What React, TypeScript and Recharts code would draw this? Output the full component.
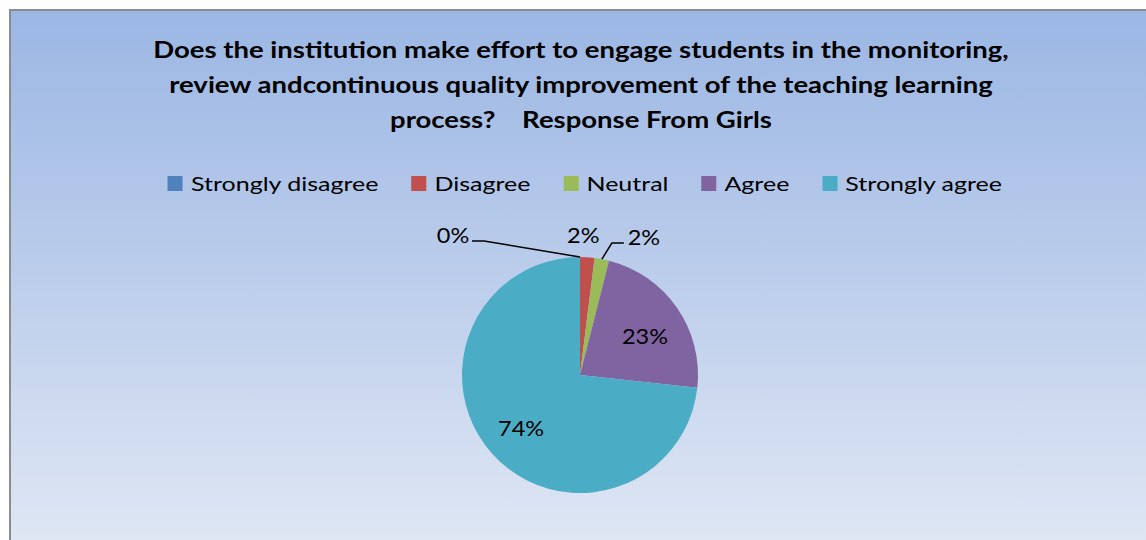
import React from "react";
import { PieChart, Pie, Cell } from "recharts";

const categories = ["Strongly disagree", "Disagree", "Neutral", "Agree", "Strongly agree"];
const values = [0, 2, 2, 23, 74];
const colors = ["#4f81bd", "#c0504d", "#9bbb59", "#8064a2", "#4bacc6"];
const titleLines = [
  "Does the institution make effort to engage students in the monitoring,",
  "review andcontinuous quality improvement of the teaching learning",
  "process?    Response From Girls",
];

const data = categories.map((name, i) => ({ name, value: values[i] }));
const RADIAN = Math.PI / 180;
const FONT = "Lato, 'Open Sans', sans-serif";
const SX = 1.25;

const LabelText = ({ x, y, text }: { x: number; y: number; text: string }) => (
  <text
    transform={`translate(${x},${y}) scale(1.12,1)`}
    fill="#000"
    fontSize={21}
    fontFamily={FONT}
    textAnchor="middle"
  >
    {text}
  </text>
);

const renderLabel = (props: any) => {
  const { cx, cy, midAngle, outerRadius, index, value } = props;
  const cos = Math.cos(-midAngle * RADIAN);
  const sin = Math.sin(-midAngle * RADIAN);
  const text = `${value}%`;
  if (index >= 3) {
    const r = outerRadius * 0.67;
    const x = cx + r * cos;
    const y = cy + r * sin;
    const dy = index === 3 ? 14 : 8;
    return (
      <g key={`l${index}`}>
        <LabelText x={x} y={y + dy} text={text} />
      </g>
    );
  }
  const ox = cx + outerRadius * cos;
  const oy = cy + outerRadius * sin;
  if (index === 0) {
    return (
      <g key={`l${index}`}>
        <polyline
          points={`${ox},${oy} ${ox - 96},${oy - 16} ${ox - 108},${oy - 16}`}
          fill="none"
          stroke="#000"
          strokeWidth={1.5}
        />
        <LabelText x={ox - 127} y={oy - 14} text={text} />
      </g>
    );
  }
  if (index === 1) {
    return (
      <g key={`l${index}`}>
        <LabelText x={ox - 4} y={oy - 14} text={text} />
      </g>
    );
  }
  return (
    <g key={`l${index}`}>
      <polyline
        points={`${ox},${oy} ${ox + 10},${oy - 16} ${ox + 22},${oy - 16}`}
        fill="none"
        stroke="#000"
        strokeWidth={1.5}
      />
      <LabelText x={ox + 42} y={oy - 14} text={text} />
    </g>
  );
};

const LegendRow = () => (
  <div
    style={{
      position: "absolute",
      left: 0,
      top: 171,
      width: 1170,
      display: "flex",
      justifyContent: "center",
      alignItems: "center",
      fontFamily: FONT,
      fontSize: 20,
      lineHeight: "24px",
      color: "#000",
      transform: `scaleX(${SX})`,
      transformOrigin: "585px 0",
    }}
  >
    {categories.map((c, i) => (
      <div
        key={c}
        style={{ display: "flex", alignItems: "center", marginRight: i < categories.length - 1 ? 33 / SX : 0 }}
      >
        <span
          style={{ width: 15 / SX, height: 15, background: colors[i], display: "inline-block", marginRight: 8 / SX }}
        />
        <span>{c}</span>
      </div>
    ))}
  </div>
);

export default function App() {
  return (
    <div style={{ position: "fixed", left: 0, top: 0, width: 1146, height: 540, background: "#fff", overflow: "hidden" }}>
      <div
        style={{
          position: "absolute",
          left: 9,
          top: 9,
          width: 1142,
          height: 560,
          border: "2px solid #8c8c8c",
          background: "linear-gradient(to bottom, #9bb7e4 0%, #b3c7e9 35%, #e2e9f5 100%)",
          boxSizing: "border-box",
        }}
      />
      <div
        style={{
          position: "absolute",
          left: 0,
          top: 32,
          width: 1162,
          textAlign: "center",
          fontFamily: FONT,
          fontWeight: 700,
          fontSize: 22,
          lineHeight: "35px",
          color: "#000",
          whiteSpace: "pre",
          transform: `scaleX(${SX})`,
          transformOrigin: "581px 0",
        }}
      >
        {titleLines.map((t) => (
          <div key={t}>{t}</div>
        ))}
      </div>
      <LegendRow />
      <div style={{ position: "absolute", left: 0, top: 0 }}>
        <PieChart width={1146} height={540} margin={{ top: 0, right: 0, bottom: 0, left: 0 }}>
          <Pie
            data={data}
            dataKey="value"
            nameKey="name"
            cx={580}
            cy={375}
            outerRadius={118}
            startAngle={90}
            endAngle={-270}
            stroke="none"
            isAnimationActive={false}
            labelLine={false}
            label={renderLabel}
          >
            {data.map((d, i) => (
              <Cell key={d.name} fill={colors[i]} />
            ))}
          </Pie>
        </PieChart>
      </div>
    </div>
  );
}
